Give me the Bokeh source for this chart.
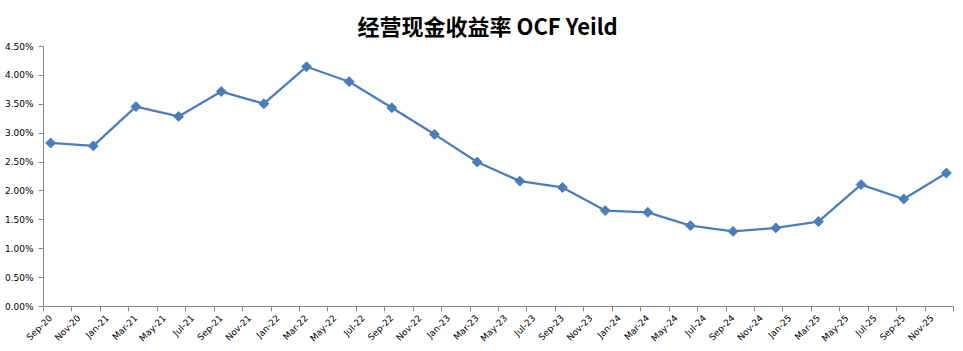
import math
from bokeh.plotting import figure
from bokeh.models import FixedTicker, NumeralTickFormatter, Range1d, Title
from bokeh.embed import file_html
from bokeh.resources import INLINE

# ---- data ----
periods = ["Sep-20", "Dec-20", "Mar-21", "Jun-21", "Sep-21", "Dec-21", "Mar-22", "Jun-22",
           "Sep-22", "Dec-22", "Mar-23", "Jun-23", "Sep-23", "Dec-23", "Mar-24", "Jun-24",
           "Sep-24", "Dec-24", "Mar-25", "Jun-25", "Sep-25", "Dec-25"]
ocf_yield = [0.0283, 0.0278, 0.0346, 0.0329, 0.0372, 0.0351, 0.0415, 0.0389,
             0.0344, 0.0298, 0.0250, 0.0217, 0.0206, 0.0166, 0.0163, 0.0140,
             0.0130, 0.0136, 0.0147, 0.0211, 0.0186, 0.0231]
x_tick_labels = ["Sep-20", "Nov-20", "Jan-21", "Mar-21", "May-21", "Jul-21", "Sep-21", "Nov-21",
                 "Jan-22", "Mar-22", "May-22", "Jul-22", "Sep-22", "Nov-22", "Jan-23", "Mar-23",
                 "May-23", "Jul-23", "Sep-23", "Nov-23", "Jan-24", "Mar-24", "May-24", "Jul-24",
                 "Sep-24", "Nov-24", "Jan-25", "Mar-25", "May-25", "Jul-25", "Sep-25", "Nov-25"]
y_ticks = [0.0, 0.005, 0.01, 0.015, 0.02, 0.025, 0.03, 0.035, 0.04, 0.045]
title_text = "经营现金收益率 OCF Yeild"

MONTHS = {"Jan": 1, "Feb": 2, "Mar": 3, "Apr": 4, "May": 5, "Jun": 6,
          "Jul": 7, "Aug": 8, "Sep": 9, "Oct": 10, "Nov": 11, "Dec": 12}


def month_index(lbl):
    m, y = lbl.split("-")
    return (2000 + int(y) - 2020) * 12 + MONTHS[m] - 9


xs = [month_index(s) for s in periods]
tick_pos = [month_index(s) for s in x_tick_labels]
n_months = month_index("Dec-25") + 1

BLUE = "#4A7EBB"
AXIS = "#868686"

p = figure(width=963, height=351, output_backend="svg", toolbar_location=None,
           x_range=Range1d(-0.5, n_months - 0.5), y_range=Range1d(0, 0.045),
           min_border_left=43, min_border_right=10, min_border_bottom=45, min_border_top=46)
p.title = Title(text=title_text, align="left", offset=314,
                text_font="Noto Sans CJK SC", text_font_size="22px",
                text_font_style="bold", text_color="#000000", standoff=11)
p.outline_line_color = None
p.grid.visible = False

p.line(xs, ocf_yield, line_color=BLUE, line_width=2.25)
p.scatter(xs, ocf_yield, marker="square", size=7, angle=math.pi / 4,
          fill_color=BLUE, line_color=BLUE)

xa = p.xaxis[0]
xa.ticker = FixedTicker(ticks=tick_pos,
                        minor_ticks=[t - 0.5 for t in tick_pos] + [n_months - 0.5])
xa.major_label_overrides = {t: l for t, l in zip(tick_pos, x_tick_labels)}
xa.major_label_orientation = math.pi / 4
xa.major_tick_out = 0
xa.major_tick_in = 0
xa.minor_tick_out = 5
xa.minor_tick_in = 0
xa.minor_tick_line_color = AXIS
xa.axis_line_color = AXIS
xa.major_label_text_font = "DejaVu Sans"
xa.major_label_text_font_size = "9px"
xa.major_label_text_color = "#000000"
xa.major_label_standoff = 5

ya = p.yaxis[0]
ya.ticker = FixedTicker(ticks=y_ticks, minor_ticks=[])
ya.formatter = NumeralTickFormatter(format="0.00%")
ya.major_tick_out = 5
ya.major_tick_in = 0
ya.minor_tick_out = 0
ya.major_tick_line_color = AXIS
ya.axis_line_color = AXIS
ya.major_label_text_font = "DejaVu Sans"
ya.major_label_text_font_size = "9px"
ya.major_label_text_color = "#000000"
ya.major_label_standoff = 5

open("out.html", "w").write(file_html(p, INLINE))
